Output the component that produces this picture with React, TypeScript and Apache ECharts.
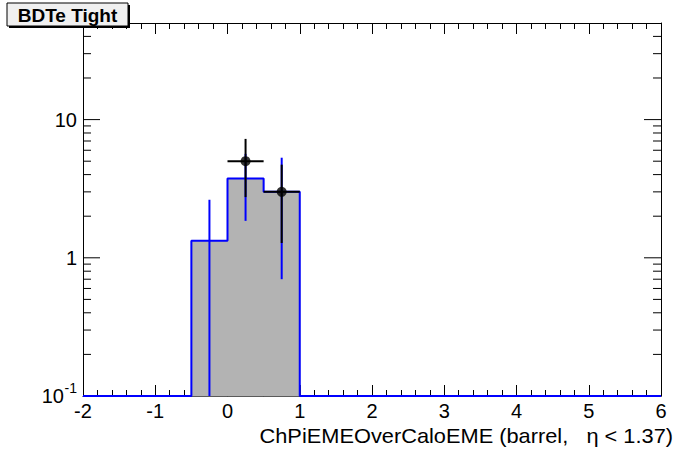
import React, { useEffect, useRef } from 'react';
import * as echarts from 'echarts';

const xMin = -2;
const xMax = 6;
const yMin = 0.1;
const yMax = 50;

// histogram (MC) bins
const histLo = [-0.5, 0, 0.5];
const histHi = [0, 0.5, 1];
const histVal = [1.33, 3.75, 3.0];
const histErr = [1.3, 1.9, 2.3];

// data points
const dataX = [0.25, 0.75];
const dataY = [5.0, 3.0];
const dataYErr = [2.25, 1.72];
const dataXErr = [0.25, 0.25];

// y axis decorations
const yMajorTicks = [1, 10];
const yMinorTicks = [0.2, 0.3, 0.4, 0.5, 0.6, 0.7, 0.8, 0.9, 2, 3, 4, 5, 6, 7, 8, 9, 20, 30, 40];
const yLabelValues = [0.1, 1, 10];
const yLabelTexts = ['10^-1', '1', '10'];

const titleText = 'BDTe Tight';
const xTitle = 'ChPiEMEOverCaloEME (barrel,   \u03b7 < 1.37)';

const FONT = '"Liberation Sans", Arial, Helvetica, sans-serif';

export default function App() {
  const ref = useRef<HTMLDivElement>(null);

  useEffect(() => {
    if (!ref.current) return;
    const chart = echarts.init(ref.current, undefined, { renderer: 'svg' });

    // outline of histogram
    const outline: number[][] = [[xMin, yMin]];
    histLo.forEach((lo, i) => {
      const hi = histHi[i];
      if (i === 0 || Math.abs(lo - histHi[i - 1]) > 1e-9) outline.push([lo, yMin]);
      outline.push([lo, histVal[i]]);
      outline.push([hi, histVal[i]]);
      if (i === histLo.length - 1 || Math.abs(histLo[i + 1] - hi) > 1e-9) outline.push([hi, yMin]);
    });
    outline.push([xMax, yMin]);

    const fillData = histLo.map((lo, i) => [lo, histVal[i], histHi[i]]);
    const histErrData = histLo.map((lo, i) => {
      const c = (lo + histHi[i]) / 2;
      return [c, histVal[i], Math.max(histVal[i] - histErr[i], yMin), histVal[i] + histErr[i], 0];
    });
    const dataErrData = dataX.map((x, i) => [
      x,
      dataY[i],
      Math.max(dataY[i] - dataYErr[i], yMin),
      dataY[i] + dataYErr[i],
      dataXErr[i],
    ]);
    const tickData = [
      ...yMajorTicks.map((v) => [xMin, v, 1]),
      ...yMinorTicks.map((v) => [xMin, v, 0]),
    ];
    const labelData = yLabelValues.map((v, i) => [xMin, v, i]);

    const errRender = (color: string) => (params: any, api: any) => {
      const x = api.value(0);
      const y = api.value(1);
      const lo = api.value(2);
      const hi = api.value(3);
      const xe = api.value(4);
      const a = api.coord([x, lo]);
      const b = api.coord([x, hi]);
      const children: any[] = [
        {
          type: 'line',
          shape: { x1: a[0], y1: a[1], x2: b[0], y2: b[1] },
          style: { stroke: color, lineWidth: 2 },
        },
      ];
      if (xe > 0) {
        const l = api.coord([x - xe, y]);
        const r = api.coord([x + xe, y]);
        children.push({
          type: 'line',
          shape: { x1: l[0], y1: l[1], x2: r[0], y2: r[1] },
          style: { stroke: color, lineWidth: 2 },
        });
      }
      return { type: 'group', children };
    };

    const xAxisCommon = {
      type: 'value',
      min: xMin,
      max: xMax,
      interval: 1,
      splitLine: { show: false },
      axisLine: { show: true, onZero: false, lineStyle: { color: '#000', width: 1 } },
      axisTick: { show: true, inside: true, length: 11, lineStyle: { color: '#000', width: 1 } },
      minorTick: { show: true, splitNumber: 5, length: 6, lineStyle: { color: '#000', width: 1 } },
    };

    chart.setOption({
      animation: false,
      backgroundColor: '#ffffff',
      grid: { left: 83, right: 35, top: 23, bottom: 76, containLabel: false },
      xAxis: [
        {
          ...xAxisCommon,
          position: 'bottom',
          axisLabel: {
            show: true,
            margin: 5,
            fontSize: 20,
            fontFamily: FONT,
            color: '#000',
            formatter: (v: number) => String(v),
          },
        },
        {
          ...xAxisCommon,
          position: 'top',
          axisLabel: { show: false },
        },
      ],
      yAxis: [
        {
          type: 'log',
          logBase: 10,
          min: yMin,
          max: yMax,
          position: 'left',
          splitLine: { show: false },
          axisLine: { show: true, onZero: false, lineStyle: { color: '#000', width: 1 } },
          axisTick: { show: false },
          axisLabel: { show: false },
        },
        {
          type: 'log',
          logBase: 10,
          min: yMin,
          max: yMax,
          position: 'right',
          splitLine: { show: false },
          axisLine: { show: true, onZero: false, lineStyle: { color: '#000', width: 1 } },
          axisTick: { show: false },
          axisLabel: { show: false },
        },
      ],
      series: [
        {
          type: 'custom',
          name: 'fill',
          z: 1,
          encode: { x: 0, y: 1 },
          data: fillData,
          renderItem: (params: any, api: any) => {
            const lo = api.value(0);
            const val = api.value(1);
            const hi = api.value(2);
            const p1 = api.coord([lo, val]);
            const p2 = api.coord([hi, yMin]);
            return {
              type: 'rect',
              shape: { x: p1[0], y: p1[1], width: p2[0] - p1[0], height: p2[1] - p1[1] },
              style: { fill: '#b3b3b3', stroke: '#b3b3b3', lineWidth: 1 },
            };
          },
        },
        {
          type: 'custom',
          name: 'yticks',
          z: 3,
          encode: { x: 0, y: 1 },
          data: tickData,
          renderItem: (params: any, api: any) => {
            const v = api.value(1);
            const major = api.value(2) === 1;
            const len = major ? 17 : 8;
            const p = api.coord([xMin, v]);
            const q = api.coord([xMax, v]);
            return {
              type: 'group',
              children: [
                { type: 'line', shape: { x1: p[0], y1: p[1], x2: p[0] + len, y2: p[1] }, style: { stroke: '#000', lineWidth: 1 } },
                { type: 'line', shape: { x1: q[0] - len, y1: q[1], x2: q[0], y2: q[1] }, style: { stroke: '#000', lineWidth: 1 } },
              ],
            };
          },
        },
        {
          type: 'custom',
          name: 'ylabels',
          z: 3,
          encode: { x: 0, y: 1 },
          data: labelData,
          renderItem: (params: any, api: any) => {
            const v = api.value(1);
            const idx = api.value(2);
            const p = api.coord([xMin, v]);
            const txt = yLabelTexts[idx];
            const xr = p[0] - 6;
            if (txt.indexOf('^') >= 0) {
              const [base, sup] = txt.split('^');
              return {
                type: 'group',
                children: [
                  {
                    type: 'text',
                    x: xr,
                    y: p[1] - 8,
                    style: { text: sup, fontSize: 14, fontFamily: FONT, fill: '#000', align: 'right', verticalAlign: 'middle' },
                  },
                  {
                    type: 'text',
                    x: xr - 13,
                    y: p[1],
                    style: { text: base, fontSize: 20, fontFamily: FONT, fill: '#000', align: 'right', verticalAlign: 'middle' },
                  },
                ],
              };
            }
            return {
              type: 'text',
              x: xr,
              y: p[1],
              style: { text: txt, fontSize: 20, fontFamily: FONT, fill: '#000', align: 'right', verticalAlign: 'middle' },
            };
          },
        },
        {
          type: 'line',
          name: 'outline',
          z: 4,
          clip: false,
          showSymbol: false,
          symbol: 'none',
          data: outline,
          lineStyle: { color: '#0000ff', width: 2 },
        },
        {
          type: 'custom',
          name: 'histErr',
          z: 5,
          encode: { x: 0, y: 1 },
          data: histErrData,
          renderItem: errRender('#0000ff'),
        },
        {
          type: 'custom',
          name: 'dataErr',
          z: 6,
          encode: { x: 0, y: 1 },
          data: dataErrData,
          renderItem: errRender('#000000'),
        },
        {
          type: 'scatter',
          name: 'data',
          z: 7,
          symbol: 'circle',
          symbolSize: 10,
          itemStyle: { color: '#000' },
          data: dataX.map((x, i) => [x, dataY[i]]),
        },
      ],
      graphic: [
        { type: 'rect', shape: { x: 9, y: 5, width: 121, height: 23 }, style: { fill: '#000' }, z: 10 },
        { type: 'rect', shape: { x: 7, y: 3, width: 121, height: 23 }, style: { fill: '#f0f0f0', stroke: '#000', lineWidth: 1 }, z: 11 },
        {
          type: 'text',
          x: 67.5,
          y: 15,
          z: 12,
          style: { text: titleText, fontSize: 19, fontWeight: 'bold', fontFamily: FONT, fill: '#000', align: 'center', verticalAlign: 'middle' },
        },
        {
          type: 'text',
          x: 673,
          y: 436,
          scaleX: 1.09,
          z: 12,
          style: { text: xTitle, fontSize: 20, fontFamily: FONT, fill: '#000', align: 'right', verticalAlign: 'middle' },
        },
      ],
    });

    return () => chart.dispose();
  }, []);

  return (
    <div
      ref={ref}
      style={{ position: 'fixed', left: 0, top: 0, width: 696, height: 472, background: '#fff' }}
    />
  );
}
